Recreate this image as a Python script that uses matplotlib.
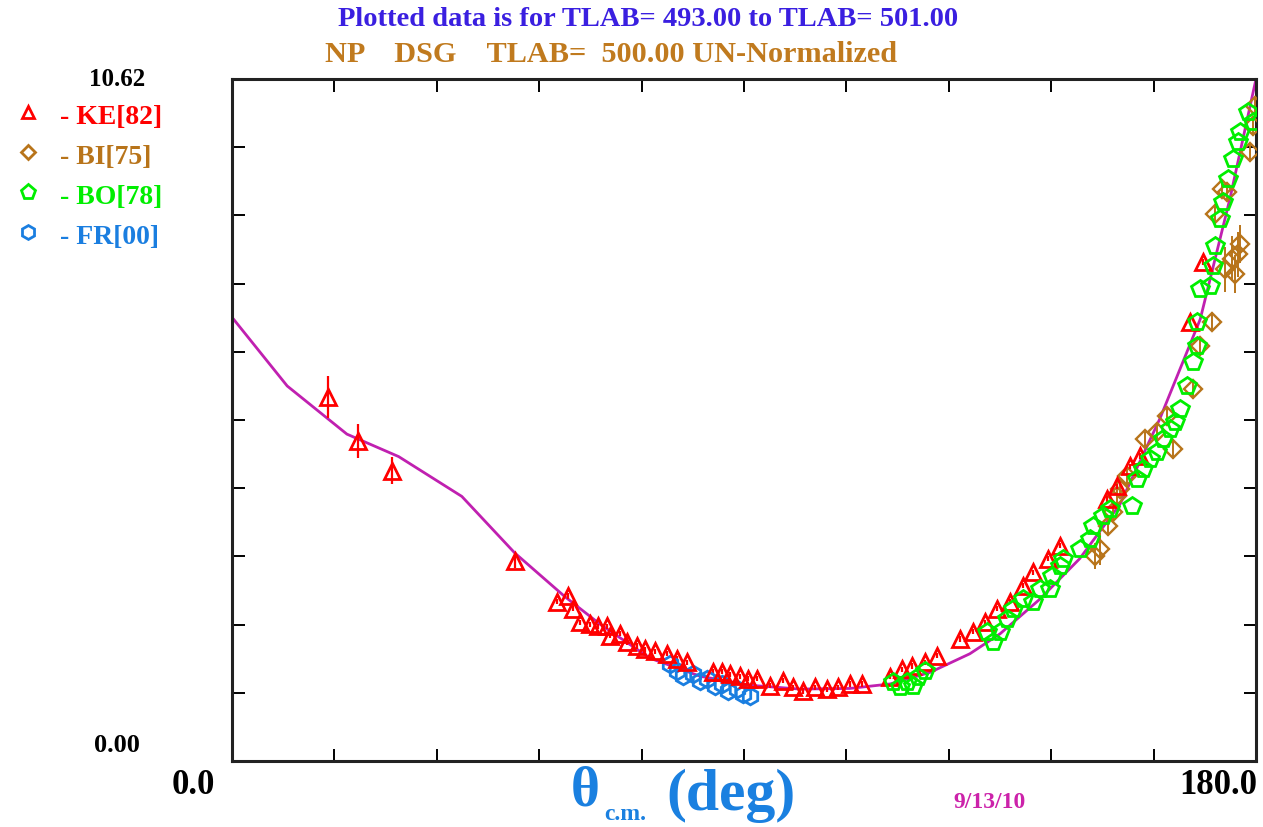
import matplotlib
matplotlib.use("Agg")
import matplotlib.pyplot as plt
import numpy as np

# ---------------- data ----------------
ke_x = [16.9, 22.1, 28.1, 49.7, 57.1, 59.1, 59.9, 61.2, 62.9, 64.3, 65.9, 66.4, 68.2, 69.4,
        71.2, 72.6, 74.4, 76.5, 78.2, 80.0, 84.6, 86.1, 87.5, 89.3, 90.7, 92.3, 94.6, 96.9,
        98.6, 100.4, 102.5, 104.6, 106.5, 108.6, 110.7, 115.7, 117.8, 119.5, 121.8, 123.9,
        128.0, 130.3, 132.4, 134.5, 136.8, 139.0, 140.8, 143.4, 145.5, 153.8, 155.6, 157.9,
        159.6, 168.4, 170.7]
ke_y = [5.67, 4.98, 4.52, 3.11, 2.48, 2.57, 2.37, 2.16, 2.13, 2.10, 2.10, 1.95, 1.98, 1.85,
        1.79, 1.74, 1.71, 1.67, 1.59, 1.54, 1.39, 1.39, 1.35, 1.32, 1.28, 1.28, 1.17, 1.25,
        1.15, 1.09, 1.15, 1.12, 1.15, 1.20, 1.20, 1.31, 1.43, 1.48, 1.54, 1.64,
        1.90, 2.01, 2.16, 2.37, 2.48, 2.73, 2.94, 3.15, 3.35, 4.08, 4.28, 4.59,
        4.75, 6.84, 7.77]
ke_err = [0.33, 0.26, 0.21, 0.10] + [0.04] * 51

bi_x = [151.7, 152.6, 154.0, 154.9, 155.6, 156.1, 157.3, 160.5, 162.6, 164.4, 165.4, 168.9,
        170.2, 172.3, 172.8, 174.0, 174.6, 174.9, 175.8, 176.3, 176.8, 177.2, 178.9, 179.5, 179.8]
bi_y = [3.19, 3.30, 3.66, 3.88, 4.13, 4.24, 4.44, 5.01, 5.12, 5.37, 4.86, 5.79,
        6.46, 6.84, 8.52, 8.91, 7.66, 8.86, 7.82, 7.58, 7.89, 8.05, 9.48, 9.89, 10.20]
bi_err = [0.20, 0.25, 0.15, 0.15, 0.20, 0.12, 0.15, 0.12, 0.12, 0.15, 0.15, 0.15,
          0.15, 0.15, 0.15, 0.15, 0.35, 0.15, 0.35, 0.30, 0.35, 0.30, 0.15, 0.15, 0.15]

bo_x = [116.2, 118.7, 120.6, 121.8, 119.7, 117.4, 132.7, 133.8, 135.0, 136.2, 137.3, 139.0,
        140.8, 142.0, 143.8, 144.1, 145.5, 146.1, 149.1, 150.8, 151.3, 153.1, 154.3, 158.2,
        159.1, 160.1, 161.4, 162.6, 163.6, 164.9, 165.8, 166.6, 167.9, 168.9, 169.6, 169.6,
        170.2, 171.9, 172.4, 172.8, 173.7, 174.2, 175.1, 176.0, 176.8, 177.2, 178.6, 179.5]
bo_y = [1.23, 1.23, 1.31, 1.40, 1.17, 1.15, 2.01, 1.85, 2.01, 2.21, 2.37, 2.52,
        2.48, 2.68, 2.68, 2.88, 3.04, 3.15, 3.30, 3.46, 3.66, 3.82, 3.92, 3.97,
        4.39, 4.55, 4.70, 4.81, 5.01, 5.17, 5.28, 5.48, 5.84, 6.21, 6.46, 6.84,
        7.35, 7.40, 7.71, 8.02, 8.44, 8.70, 9.06, 9.37, 9.64, 9.79, 10.11, 9.95]

fr_x = [77.0, 78.2, 79.3, 81.0, 82.3, 83.5, 84.9, 86.1, 87.2, 88.8, 89.8, 91.1]
fr_y = [1.51, 1.40, 1.32, 1.35, 1.25, 1.28, 1.17, 1.20, 1.09, 1.12, 1.04, 1.01]

curve_x = [0.0, 9.7, 20.2, 29.3, 40.4, 49.7, 58.5, 64.7, 73.5, 82.3, 91.0, 99.8, 108.6,
           115.7, 122.7, 129.7, 135.0, 142.0, 149.0, 156.1, 163.1, 170.2, 175.4, 180.0]
curve_y = [6.91, 5.84, 5.09, 4.74, 4.12, 3.24, 2.56, 2.13, 1.60, 1.32, 1.18, 1.12, 1.13,
           1.20, 1.38, 1.67, 1.98, 2.52, 3.15, 4.00, 5.33, 6.88, 8.75, 10.62]

legend_labels = ["- KE[82]", "- BI[75]", "- BO[78]", "- FR[00]"]

# ---------------- style ----------------
c_ke = "#ff0000"
c_bi = "#b8741a"
c_bo = "#00ee00"
c_fr = "#1a7ee0"
c_curve = "#c020b0"
SERIF = ["Liberation Serif", "DejaVu Serif"]

W, H = 1263, 828
fig = plt.figure(figsize=(W / 100, H / 100), dpi=100)
ax = fig.add_axes([232 / W, (H - 762) / H, 1024 / W, 682 / H])

ax.plot(curve_x, curve_y, color=c_curve, lw=2, zorder=2)

ax.errorbar(bi_x, bi_y, yerr=bi_err, fmt="D", mfc="none", mec=c_bi, ecolor=c_bi,
            ms=9, mew=1.7, elinewidth=1.4, capsize=0, zorder=3)
ax.errorbar(ke_x, ke_y, yerr=ke_err, fmt="^", mfc="none", mec=c_ke, ecolor=c_ke,
            ms=11, mew=2.0, elinewidth=1.6, capsize=0, zorder=4)
ax.plot(fr_x, fr_y, "h", mfc="none", mec=c_fr, ms=12, mew=2.0, ls="none", zorder=4)
ax.plot(bo_x, bo_y, "p", mfc="none", mec=c_bo, ms=13, mew=2.0, ls="none", zorder=5)

ax.set_xlim(0, 180)
ax.set_ylim(0, 10.62)
ax.set_xticks(np.arange(18, 180, 18))
ax.set_yticks(np.arange(1, 10) * 1.062)
ax.tick_params(direction="in", length=9, width=1.4, top=True, right=True,
               labelbottom=False, labelleft=False, color="black")
for s in ax.spines.values():
    s.set_linewidth(2.2)
    s.set_color("#222222")


def ftext(x, y, s, **kw):
    fig.text(x / W, 1 - y / H, s, **kw)


ftext(648, 19, "Plotted data is for TLAB= 493.00 to TLAB= 501.00", color="#3a1fe0",
      fontsize=20.5, fontweight="bold", family=SERIF, ha="center", va="center")
ftext(325, 54, "NP    DSG    TLAB=  500.00 UN-Normalized", color="#c07a1e",
      fontsize=21.8, fontweight="bold", family=SERIF, ha="left", va="center")

# legend
cols = [c_ke, c_bi, c_bo, c_fr]
marks = ["^", "D", "p", "h"]
msz = [9, 7, 11, 10]
ys = [113, 153, 193, 233]
for lab, c, m, s, yy in zip(legend_labels, cols, marks, msz, ys):
    fig.lines.append(matplotlib.lines.Line2D([28 / W], [1 - yy / H], marker=m, mfc="none",
                                             mec=c, ms=s, mew=2.0, ls="none",
                                             transform=fig.transFigure))
    ftext(60, yy + 5, lab, color=c, fontsize=20, fontweight="bold", family=SERIF,
          ha="left", va="center")

ftext(145, 80, "10.62", color="black", fontsize=18, fontweight="bold", family=SERIF,
      ha="right", va="center")
ftext(140, 746, "0.00", color="black", fontsize=19, fontweight="bold", family=SERIF,
      ha="right", va="center")
ftext(215, 786, "0.0", color="black", fontsize=25, fontweight="bold", family=SERIF,
      ha="right", va="center")
ftext(1257, 786, "180.0", color="black", fontsize=25, fontweight="bold", family=SERIF,
      ha="right", va="center")

# x label
ftext(571, 792, "θ", color="#1a80e0", fontsize=40, fontweight="bold", family=SERIF,
      ha="left", va="center")
ftext(604, 815, "c.m.", color="#1a80e0", fontsize=17, fontweight="bold", family=SERIF,
      ha="left", va="center")
ftext(666, 796, "(deg)", color="#1a80e0", fontsize=43, fontweight="bold", family=SERIF,
      ha="left", va="center")
ftext(990, 803, "9/13/10", color="#cc22aa", fontsize=17, fontweight="bold", family=SERIF,
      ha="center", va="center")

fig.savefig("out.png", dpi=100)
